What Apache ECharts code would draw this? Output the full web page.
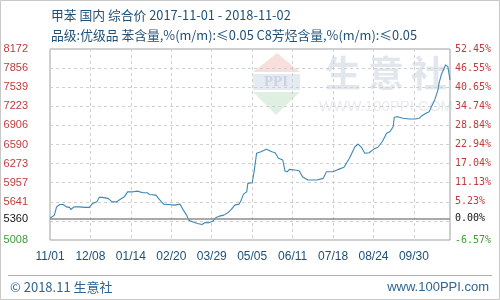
<!DOCTYPE html>
<html><head><meta charset="utf-8">
<script src="https://cdn.jsdelivr.net/npm/echarts@6/dist/echarts.min.js"></script>
<style>html,body{margin:0;padding:0;background:#fff}#c{width:500px;height:300px}</style>
</head><body><div id="c"></div>
<script>
// Day offsets from 2017-11-01 and composite prices (yuan/ton)
var days = [0,4,6,9,12,15,18,19,22,27,32,36,39,43,45,48,53,57,61,64,68,71,76,80,85,89,91,97,100,104,108,114,119,122,125,127,132,135,139,142,145,149,152,155,159,163,166,169,173,175,177,180,181,185,187,189,193,198,203,206,209,213,215,217,219,224,228,231,236,244,250,253,259,264,269,274,279,282,285,288,292,296,300,304,308,311,314,315,318,323,329,334,338,340,344,347,349,352,355,356,358,360,362,364,365,366];
var prices = [5368,5420,5557,5597,5597,5557,5548,5514,5557,5557,5548,5548,5614,5640,5714,5714,5697,5640,5640,5680,5723,5806,5806,5818,5790,5790,5763,5752,5680,5602,5597,5586,5602,5503,5420,5337,5299,5282,5265,5299,5292,5320,5382,5403,5420,5465,5514,5586,5602,5669,5768,5806,5946,5956,6167,6444,6470,6510,6470,6454,6361,6333,6150,6138,6178,6167,6155,6055,6001,6001,6029,6138,6138,6178,6212,6361,6553,6598,6544,6444,6454,6510,6544,6636,6776,6802,6885,7042,7051,7025,7013,7013,7025,7063,7108,7134,7217,7329,7495,7606,7744,7827,7910,7881,7772,7661];
var baseValue = 5360;
var xTickLabels = ['11/01','12/08','01/14','02/20','03/29','05/05','06/11','07/18','08/24','09/30'];
var yGridValues = [5008,5324.4,5640.8,5957.2,6273.6,6590,6906.4,7222.8,7539.2,7855.6,8172];
var yLabelValues = [5008,5360,5640.8,5957.2,6273.6,6590,6906.4,7222.8,7539.2,7855.6,8172];
var leftLabels = ['5008','5360','5641','5957','6273','6590','6906','7223','7539','7856','8172'];
var rightLabels = ['-6.57%','0.00%','5.23%','11.13%','17.04%','22.94%','28.84%','34.74%','40.65%','46.55%','52.45%'];
var titleText = '甲苯 国内 综合价 2017-11-01 - 2018-11-02';
var subtitleText = '品级:优级品 苯含量,%(m/m):≤0.05 C8芳烃含量,%(m/m):≤0.05';

var seriesData = days.map(function(d,i){return [d, prices[i]];});
function labelIdx(v){var best=0,bd=1e9;for(var i=0;i<yLabelValues.length;i++){var dd=Math.abs(yLabelValues[i]-v);if(dd<bd){bd=dd;best=i;}}return best;}
function labelColor(v){var i=labelIdx(v);return i===0?'#3f9a3a':(i===1?'#111':'#c23b3b');}

var chart = echarts.init(document.getElementById('c'), null, {renderer:'canvas'});
chart.setOption({
  animation:false,
  grid:{left:50,right:50,top:49,bottom:60,show:true,borderColor:'#a0a0a0',borderWidth:1,backgroundColor:'transparent'},
  xAxis:{type:'value',min:0,max:366,interval:37,
    axisLine:{show:false},axisTick:{show:false},
    splitLine:{show:true,lineStyle:{color:'#cfcfcf',type:[3,3],width:1}},
    axisLabel:{showMaxLabel:false,margin:11,color:'#1d4f78',fontSize:12,fontFamily:'Liberation Sans, Arial, sans-serif',
      formatter:function(v){var i=Math.round(v/37);return xTickLabels[i]||'';}}},
  yAxis:[
    {type:'value',min:5008,max:8172,position:'left',
     axisLine:{show:false},axisTick:{show:false,customValues:yGridValues},
     splitLine:{show:true,lineStyle:{color:'#cfcfcf',type:[3,3],width:1}},
     axisLabel:{customValues:yLabelValues,margin:22,fontSize:11,fontFamily:'Liberation Sans, Arial, sans-serif',
       color:function(v){return labelColor(v);},
       formatter:function(v){return leftLabels[labelIdx(v)];}}},
    {type:'value',min:5008,max:8172,position:'right',
     axisLine:{show:false},axisTick:{show:false,customValues:yGridValues},
     splitLine:{show:false},
     axisLabel:{customValues:yLabelValues,margin:5,fontSize:10,fontFamily:'DejaVu Sans Mono, monospace',
       color:function(v){return labelColor(v);},
       formatter:function(v){return rightLabels[labelIdx(v)];}}}
  ],
  graphic:[
    {type:'rect',silent:true,z:-10,shape:{x:0.5,y:0.5,width:499,height:299},style:{fill:'none',stroke:'#c8c8c8',lineWidth:1}},
    // watermark logo
    {type:'polygon',silent:true,z:-5,shape:{points:[[253,72],[277,53],[300,72]]},style:{fill:'#f7e0db'}},
    {type:'rect',silent:true,z:-5,shape:{x:253,y:74,width:47,height:16},style:{fill:'#e6eaf2'}},
    {type:'text',silent:true,z:-4,style:{x:276,y:82,text:'PPI',fill:'#ccd4e3',font:'bold 15px Liberation Serif, serif',align:'center',verticalAlign:'middle'}},
    {type:'polygon',silent:true,z:-5,shape:{points:[[253,92],[300,92],[276,115]]},style:{fill:'#dff0e2'}},
    {type:'text',silent:true,z:-4,style:{x:343,y:73,text:'生',fill:'#e2e6ed',font:'bold 36px Noto Sans CJK SC, sans-serif',align:'center',verticalAlign:'middle'}},
    {type:'text',silent:true,z:-4,style:{x:386,y:73,text:'意',fill:'#e2e6ed',font:'bold 36px Noto Sans CJK SC, sans-serif',align:'center',verticalAlign:'middle'}},
    {type:'text',silent:true,z:-4,style:{x:429,y:73,text:'社',fill:'#e2e6ed',font:'bold 36px Noto Sans CJK SC, sans-serif',align:'center',verticalAlign:'middle'}},
    {type:'text',silent:true,z:-4,style:{x:386,y:107,text:'WWW.100PPI.COM',fill:'#e8ebef',font:'15px Liberation Sans, Arial, sans-serif',align:'center',verticalAlign:'middle'}},
    // titles
    {type:'text',silent:true,style:{x:51,y:15,text:titleText,fill:'#1e5078',font:'12.8px Noto Sans CJK SC, sans-serif',verticalAlign:'middle'}},
    {type:'text',silent:true,style:{x:51,y:35,text:subtitleText,fill:'#1e5078',font:'12.8px Noto Sans CJK SC, sans-serif',verticalAlign:'middle'}},
    // footer
    {type:'line',silent:true,shape:{x1:8,y1:275.5,x2:492,y2:275.5},style:{stroke:'#b0b0b0',lineWidth:1}},
    {type:'text',silent:true,style:{x:10,y:287,text:'© 2018.11 生意社',fill:'#2f6592',font:'13px Noto Sans CJK SC, sans-serif',verticalAlign:'middle'}},
    {type:'text',silent:true,style:{x:489,y:287,text:'www.100PPI.com',fill:'#2f6592',font:'13px Liberation Sans, Arial, sans-serif',align:'right',verticalAlign:'middle'}}
  ],
  series:[{
    type:'line',data:seriesData,yAxisIndex:0,showSymbol:false,symbol:'none',
    lineStyle:{color:'#3d88b3',width:1.1},
    markLine:{silent:true,symbol:'none',label:{show:false},
      lineStyle:{color:'#8c8c8c',type:'solid',width:1.5},
      data:[{yAxis:baseValue}]}
  }]
});
</script></body></html>
